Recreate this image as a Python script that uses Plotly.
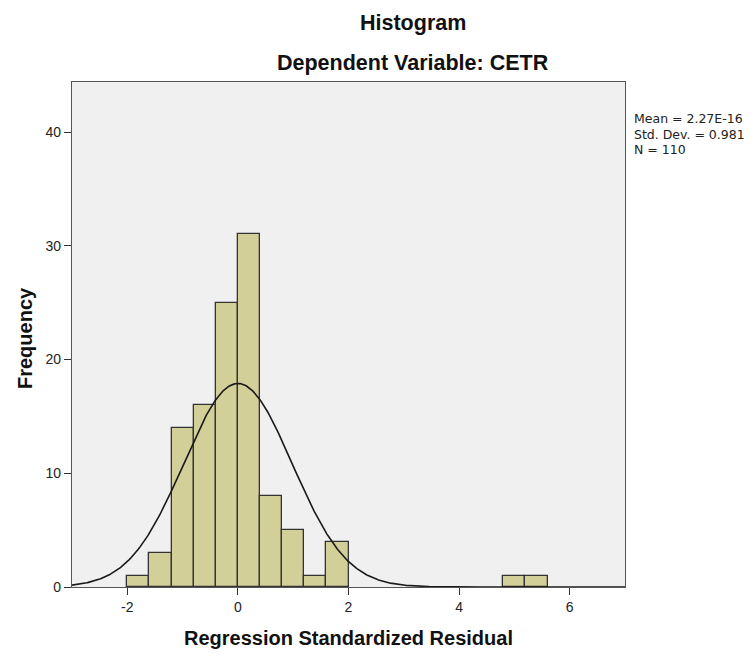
import numpy as np
import plotly.graph_objects as go

# ---- data ----
bin_left = [-2.0, -1.6, -1.2, -0.8, -0.4, 0.0, 0.4, 0.8, 1.2, 1.6, 4.8, 5.2]
counts = [1, 3, 14, 16, 25, 31, 8, 5, 1, 4, 1, 1]
bin_width = 0.4
mean_val = 2.27e-16
sd_val = 0.981
n_val = 110
x_tick_vals = [-2, 0, 2, 4, 6]
x_tick_text = ["-2", "0", "2", "4", "6"]
y_tick_vals = [0, 10, 20, 30, 40]
stats_lines = ["Mean = 2.27E-16", "Std. Dev. = 0.981", "N = 110"]

centers = [b + bin_width / 2 for b in bin_left]

# normal curve from the reported mean / sd / N
xs = np.linspace(-3, 7, 600)
ys = n_val * bin_width * np.exp(-0.5 * ((xs - mean_val) / sd_val) ** 2) / (sd_val * np.sqrt(2 * np.pi))

# page has an 8px body margin -> work in figure pixels
W, H = 744, 648
L, R, T, B = 64, 617, 74, 579   # plot area in figure px


def py(page_y):
    return (B - (page_y - 8)) / (B - T)


def px(page_x):
    return ((page_x - 8) - L) / (R - L)


fig = go.Figure()
fig.add_trace(go.Bar(
    x=centers, y=counts, width=[bin_width] * len(counts),
    marker=dict(color="#d3cf98", line=dict(color="#333333", width=1.3)),
    hoverinfo="x+y",
))
fig.add_trace(go.Scatter(
    x=xs, y=ys, mode="lines", line=dict(color="#1a1a1a", width=1.6), hoverinfo="skip",
))

axis_common = dict(
    ticks="outside", ticklen=7, tickwidth=1.3, tickcolor="#333",
    showgrid=False, zeroline=False, showline=True, linecolor="#555",
    linewidth=1.3, mirror=True, automargin=False,
    tickfont=dict(size=14, color="#222"),
)

fig.update_layout(
    width=W, height=H,
    margin=dict(l=L, r=W - R, t=T, b=H - B),
    paper_bgcolor="white", plot_bgcolor="#f0f0f0",
    showlegend=False, bargap=0,
    font=dict(family="Liberation Sans, Arial, sans-serif", size=12, color="#222"),
    xaxis=dict(range=[-3, 7], tickvals=x_tick_vals, ticktext=x_tick_text, **axis_common),
    yaxis=dict(range=[0, 44.4], tickvals=y_tick_vals, **axis_common),
)

title_font = dict(size=21.5, color="#111", family="Liberation Sans, Arial, sans-serif")
fig.add_annotation(text="<b>Histogram</b>", x=px(413), xref="paper", y=py(23), yref="paper",
                   showarrow=False, font=title_font, yanchor="middle", xanchor="center")
fig.add_annotation(text="<b>Dependent Variable: CETR</b>", x=px(413), xref="paper", y=py(63), yref="paper",
                   showarrow=False, font=title_font, yanchor="middle", xanchor="center")

axis_title_font = dict(size=20, color="#111", family="Liberation Sans, Arial, sans-serif")
fig.add_annotation(text="<b>Regression Standardized Residual</b>", x=0.5, xref="paper",
                   y=py(638), yref="paper", showarrow=False, font=axis_title_font,
                   yanchor="middle", xanchor="center")
fig.add_annotation(text="<b>Frequency</b>", x=px(25), xref="paper", y=py(338), yref="paper",
                   showarrow=False, font=axis_title_font, textangle=-90,
                   yanchor="middle", xanchor="center")

for i, line in enumerate(stats_lines):
    fig.add_annotation(text=line, x=px(632), xref="paper", y=py(119 + 15 * i), yref="paper",
                       showarrow=False, align="left", xanchor="left", yanchor="middle",
                       font=dict(size=12.5, color="#222", family="DejaVu Sans, sans-serif"))

fig.write_html("out.html")
